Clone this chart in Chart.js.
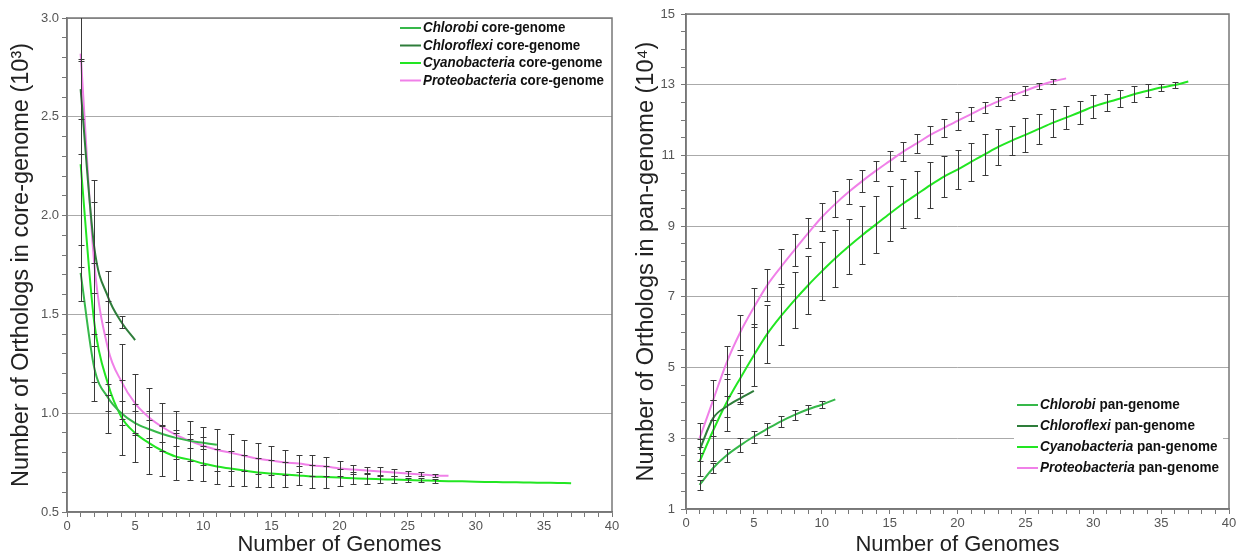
<!DOCTYPE html>
<html>
<head>
<meta charset="utf-8">
<script src="https://cdn.jsdelivr.net/npm/chart.js@4/dist/chart.umd.min.js"></script>
<style>
  body { margin: 0; background: #fff; }
  #left { position: absolute; left: 0; top: 0; width: 625px; height: 559px; }
  #right { position: absolute; left: 625px; top: 0; width: 617px; height: 559px; }
</style>
</head>
<body>
<div id="left"><canvas id="coreChart"></canvas></div>
<div id="right"><canvas id="panChart"></canvas></div>
<script>
// core-genome (10^3), value per number of genomes starting at 1
var coreChlorobi = [1.71, 1.23, 1.08, 1.00, 0.95, 0.92, 0.895, 0.875, 0.86, 0.85, 0.84];
var coreChlorobiErr = [0.14, 0.17, 0.07, 0.06, 0.06, 0.045, 0.04, 0.04, 0.035, 0.03];
var coreChloroflexi = [2.64, 1.84, 1.59, 1.46, 1.37];
var coreChloroflexiErr = [0.15, 0.23, 0.13, 0.03];
var coreCyano = [2.26, 1.46, 1.15, 0.98, 0.90, 0.85, 0.81, 0.78, 0.765, 0.745, 0.73, 0.72, 0.71, 0.70, 0.695, 0.69,
  0.685, 0.68, 0.677, 0.674, 0.671, 0.668, 0.666, 0.664, 0.662, 0.66, 0.658, 0.656, 0.655, 0.653, 0.652, 0.651,
  0.65, 0.649, 0.648, 0.647, 0.646];
var coreCyanoErr = [0.52, 0.30, 0.25, 0.19, 0.145, 0.16, 0.13, 0.12, 0.105, 0.09, 0.09, 0.09, 0.08, 0.075, 0.07,
  0.065, 0.05, 0.06, 0.057, 0.044, 0.03, 0.028, 0.021, 0.019, 0.012, 0.01, 0.009];
var coreProteo = [2.82, 1.76, 1.33, 1.16, 1.05, 0.98, 0.93, 0.89, 0.86, 0.835, 0.815, 0.80, 0.785, 0.77, 0.76, 0.75,
  0.745, 0.735, 0.73, 0.72, 0.715, 0.71, 0.705, 0.70, 0.695, 0.69, 0.685, 0.683];
var coreProteoErr = [0.51, 0.42, 0.24, 0.19, 0.15, 0.15, 0.12, 0.12, 0.10, 0.095, 0.105, 0.095, 0.08, 0.08, 0.075,
  0.065, 0.045, 0.055, 0.05, 0.04, 0.025, 0.02, 0.025, 0.02, 0.015, 0.01, 0.008];

// pan-genome (10^4)
var panChlorobi = [1.68, 2.16, 2.52, 2.80, 3.05, 3.27, 3.48, 3.66, 3.82, 3.95, 4.10];
var panChlorobiErr = [0.14, 0.13, 0.19, 0.20, 0.17, 0.17, 0.16, 0.14, 0.12, 0.10];
var panChloroflexi = [2.67, 3.57, 3.90, 4.13, 4.34];
var panChloroflexiErr = [0.30, 0.50, 0.30, 0.15];
var panCyano = [2.34, 3.22, 4.02, 4.70, 5.35, 5.96, 6.46, 6.91, 7.33, 7.72, 8.09, 8.43, 8.75, 9.05, 9.35, 9.64,
  9.90, 10.16, 10.40, 10.60, 10.82, 11.03, 11.24, 11.42, 11.58, 11.75, 11.92, 12.07, 12.22, 12.38, 12.50, 12.61,
  12.73, 12.83, 12.92, 12.99, 13.09];
var panCyanoErr = [0.42, 0.85, 0.81, 0.66, 0.87, 0.82, 0.82, 0.79, 0.82, 0.82, 0.80, 0.78, 0.82, 0.80, 0.78, 0.68,
  0.67, 0.65, 0.58, 0.55, 0.53, 0.57, 0.52, 0.41, 0.47, 0.42, 0.40, 0.32, 0.32, 0.32, 0.25, 0.23, 0.23, 0.18,
  0.10, 0.08];
var panProteo = [3.00, 4.08, 5.15, 6.00, 6.70, 7.34, 7.85, 8.33, 8.80, 9.25, 9.63, 9.97, 10.28, 10.57, 10.84, 11.11,
  11.34, 11.58, 11.78, 11.98, 12.17, 12.36, 12.53, 12.69, 12.83, 12.97, 13.09, 13.18];
var panProteoErr = [0.43, 0.57, 0.47, 0.49, 0.55, 0.45, 0.50, 0.45, 0.43, 0.40, 0.37, 0.35, 0.32, 0.28, 0.28, 0.28,
  0.26, 0.25, 0.26, 0.25, 0.19, 0.15, 0.12, 0.11, 0.12, 0.09, 0.06];

var genera = ['Chlorobi', 'Chloroflexi', 'Cyanobacteria', 'Proteobacteria'];
var colors = ['#36b84a', '#2e7d3a', '#22e622', '#f080e8'];
var coreTicks = [0.5, 1.0, 1.5, 2.0, 2.5, 3.0];
var panTicks = [1, 3, 5, 7, 9, 11, 13, 15];
var xTicks = [0, 5, 10, 15, 20, 25, 30, 35, 40];

var FONT = "'Liberation Sans', Arial, sans-serif";

function points(vals) {
    return vals.map(function (v, i) { return { x: i + 1, y: v }; });
}

function makeSets(vals, errs, suffix) {
    return vals.map(function (v, k) {
        return {
            label: genera[k] + ' ' + suffix,
            genus: genera[k],
            suffix: suffix,
            data: points(v),
            err: errs[k],
            borderColor: colors[k],
            backgroundColor: colors[k],
            borderWidth: 2,
            pointRadius: 0,
            cubicInterpolationMode: 'monotone',
            fill: false
        };
    });
}

function isTick(list, v) {
    return list.some(function (t) { return Math.abs(t - v) < 1e-6; });
}

var errorBars = {
    id: 'errorBars',
    afterDatasetsDraw: function (chart) {
        var ctx = chart.ctx, xs = chart.scales.x, ys = chart.scales.y, a = chart.chartArea;
        ctx.save();
        ctx.beginPath();
        ctx.rect(a.left, a.top, a.right - a.left, a.bottom - a.top);
        ctx.clip();
        ctx.strokeStyle = '#3a3a3a';
        ctx.lineWidth = 1;
        chart.data.datasets.forEach(function (ds) {
            (ds.err || []).forEach(function (e, i) {
                if (e == null) return;
                var p = ds.data[i];
                var x = Math.round(xs.getPixelForValue(p.x)) + 0.5;
                var y1 = Math.round(ys.getPixelForValue(p.y - e)) + 0.5;
                var y2 = Math.round(ys.getPixelForValue(p.y + e)) + 0.5;
                ctx.beginPath();
                ctx.moveTo(x, y1); ctx.lineTo(x, y2);
                ctx.moveTo(x - 3, y1); ctx.lineTo(x + 3, y1);
                ctx.moveTo(x - 3, y2); ctx.lineTo(x + 3, y2);
                ctx.stroke();
            });
        });
        ctx.restore();
    }
};

var frame = {
    id: 'frame',
    beforeDatasetsDraw: function (chart) {
        var ctx = chart.ctx, a = chart.chartArea;
        ctx.save();
        ctx.strokeStyle = '#777';
        ctx.lineWidth = 1.5;
        ctx.strokeRect(a.left, a.top, a.right - a.left, a.bottom - a.top);
        ctx.restore();
    }
};

// legend with italic genus + plain suffix, squeezed to a condensed look
var sideLegend = {
    id: 'sideLegend',
    afterDraw: function (chart, args, opts) {
        var ctx = chart.ctx, a = chart.chartArea;
        var x0 = a.right + opts.dx;
        var y0 = opts.fromBottom ? a.bottom + opts.y0 : a.top + opts.y0;
        var fi = 'italic bold 14.5px ' + FONT, fn = 'bold 14.5px ' + FONT;
        ctx.save();
        var widest = 0;
        chart.data.datasets.forEach(function (ds) {
            ctx.font = fi;
            var w = ctx.measureText(ds.genus + ' ').width;
            ctx.font = fn;
            widest = Math.max(widest, w + ctx.measureText(ds.suffix).width);
        });
        var sx = opts.width / widest;
        if (opts.box) {
            ctx.fillStyle = '#fff';
            ctx.fillRect(x0 - 3, y0 - 11, opts.width + 30, opts.gap * 3 + 22);
        }
        chart.data.datasets.forEach(function (ds, k) {
            var y = y0 + k * opts.gap;
            ctx.strokeStyle = ds.borderColor;
            ctx.lineWidth = 2;
            ctx.beginPath();
            ctx.moveTo(x0, y); ctx.lineTo(x0 + 21, y);
            ctx.stroke();
            ctx.save();
            ctx.translate(x0 + 23, y);
            ctx.scale(sx, 1);
            ctx.fillStyle = '#111';
            ctx.textBaseline = 'middle';
            ctx.font = fi;
            ctx.fillText(ds.genus, 0, 0);
            var w = ctx.measureText(ds.genus + ' ').width;
            ctx.font = fn;
            ctx.fillText(ds.suffix, w, 0);
            ctx.restore();
        });
        ctx.restore();
    }
};

function makeChart(id, datasets, cfg) {
    var ctx = document.getElementById(id).getContext('2d');
    return new Chart(ctx, {
        type: 'line',
        data: { datasets: datasets },
        plugins: [frame, errorBars, sideLegend],
        options: {
            responsive: true,
            maintainAspectRatio: false,
            animation: false,
            layout: { padding: { top: cfg.top, right: 13, left: 0, bottom: 0 } },
            plugins: {
                legend: { display: false },
                tooltip: { enabled: false },
                sideLegend: cfg.legend
            },
            scales: {
                x: {
                    type: 'linear', min: 0, max: 40,
                    afterFit: function (s) { s.height = cfg.xHeight; },
                    ticks: {
                        stepSize: 1, autoSkip: false, maxRotation: 0, padding: 2,
                        color: '#555', font: { family: FONT, size: 13 },
                        callback: function (v) { return isTick(xTicks, v) ? String(v) : ''; }
                    },
                    grid: { drawOnChartArea: false, tickLength: 5, color: '#777', tickColor: '#777' },
                    border: { color: '#777', width: 1.5 },
                    title: {
                        display: true, text: 'Number of Genomes', color: '#222',
                        font: { family: FONT, size: 22 }, padding: { top: 0, bottom: 1 }
                    }
                },
                y: {
                    type: 'linear', min: cfg.yMin, max: cfg.yMax,
                    afterFit: function (s) { s.width = cfg.yWidth; },
                    ticks: {
                        stepSize: cfg.yStep, autoSkip: false, padding: cfg.yPad,
                        color: '#555', font: { family: FONT, size: 13 },
                        callback: function (v) { return isTick(cfg.yTicks, v) ? cfg.fmt(v) : ''; }
                    },
                    grid: {
                        tickLength: 5, tickColor: '#777', lineWidth: 1,
                        color: function (c) { return c.tick && isTick(cfg.yTicks, c.tick.value) ? '#aaa' : 'rgba(0,0,0,0)'; }
                    },
                    border: { color: '#777', width: 1.5 },
                    title: {
                        display: true, text: cfg.yTitle, color: '#222',
                        font: { family: FONT, size: 23.5 }, padding: { top: 7, bottom: 0 }
                    }
                }
            }
        }
    });
}

makeChart('coreChart',
    makeSets([coreChlorobi, coreChloroflexi, coreCyano, coreProteo],
        [coreChlorobiErr, coreChloroflexiErr, coreCyanoErr, coreProteoErr], 'core-genome'),
    {
        top: 18, xHeight: 47, yWidth: 67, yPad: 3,
        yMin: 0.5, yMax: 3.0, yStep: 0.1, yTicks: coreTicks,
        fmt: function (v) { return v.toFixed(1); },
        yTitle: 'Number of Orthologs in core-genome (10\u00b3)',
        legend: { dx: -212, y0: 10, gap: 17.5, fromBottom: false, box: false, width: 181 }
    });

makeChart('panChart',
    makeSets([panChlorobi, panChloroflexi, panCyano, panProteo],
        [panChlorobiErr, panChloroflexiErr, panCyanoErr, panProteoErr], 'pan-genome'),
    {
        top: 14, xHeight: 50, yWidth: 61, yPad: 6,
        yMin: 1, yMax: 15, yStep: 0.5, yTicks: panTicks,
        fmt: function (v) { return String(v); },
        yTitle: 'Number of Orthologs in pan-genome (10\u2074)',
        legend: { dx: -212, y0: -104, gap: 21, fromBottom: true, box: true, width: 179 }
    });
</script>
</body>
</html>
